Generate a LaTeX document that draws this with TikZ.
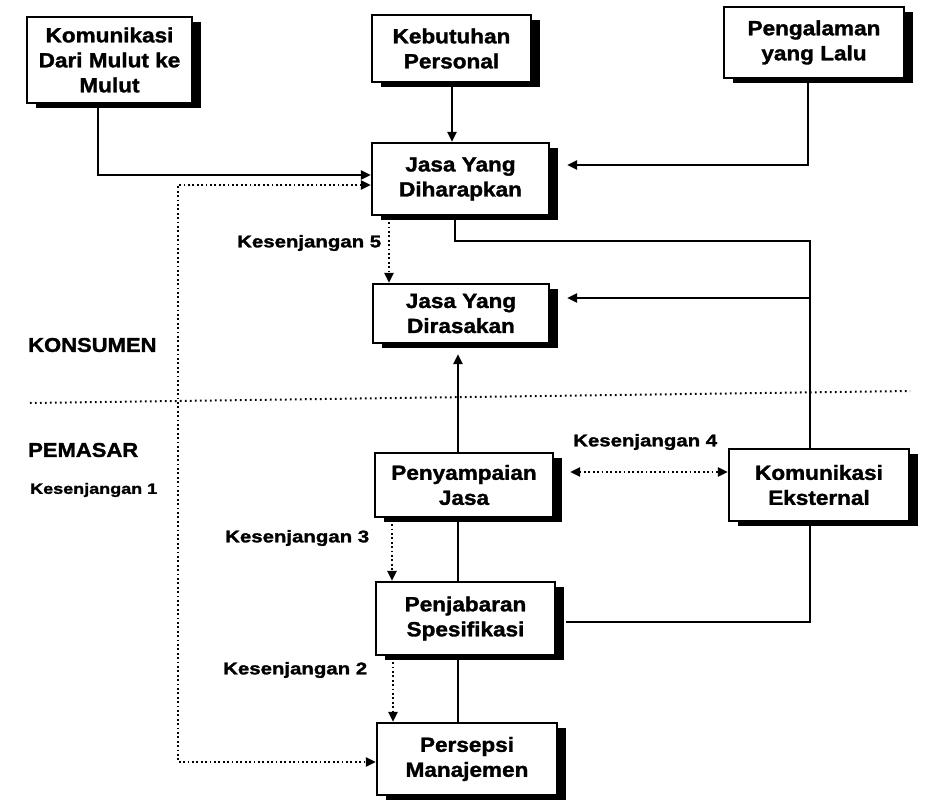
\documentclass[tikz,border=0pt]{standalone}
\usepackage{fontspec}
\setmainfont[FakeStretch=1.1,FakeBold=1.5]{Liberation Sans}
\newfontfamily\lblfont[FakeStretch=1.2,FakeBold=1.5]{Liberation Sans}
\usetikzlibrary{arrows.meta,shadows,calc}
\begin{document}
\begin{tikzpicture}[x=1pt,y=-1pt,
 box/.style={draw, line width=2.4pt, fill=white, align=center, inner sep=0pt,
   font=\bfseries\fontsize{20.5}{25}\selectfont,
   drop shadow={shadow xshift=9pt,shadow yshift=-5pt,fill=black,opacity=1}},
 conn/.style={line width=2.6pt},
 tipA/.style={-{Triangle[length=10pt,width=9pt]}},
 arr/.style={conn,tipA},
 dots/.style={line width=2.5pt, dash pattern=on 1.8pt off 2.6pt},
 darr/.style={dots,tipA},
 lbl/.style={anchor=west, inner sep=0pt, font=\lblfont\bfseries\fontsize{17}{20}\selectfont},
 side/.style={anchor=west, inner sep=0pt, font=\bfseries\fontsize{20}{24}\selectfont}]
\useasboundingbox (0,0) rectangle (932,805);

% boxes
\node[box, minimum width=165pt, minimum height=86pt] (kom) at (109.5,60) {Komunikasi\\Dari Mulut ke\\Mulut};
\node[box, minimum width=159pt, minimum height=67pt] (keb) at (451.5,48.5) {Kebutuhan\\Personal};
\node[box, minimum width=180pt, minimum height=71pt] (peng) at (814,42.5) {Pengalaman\\yang Lalu};
\node[box, minimum width=177pt, minimum height=72pt] (harap) at (460.5,179) {Jasa Yang\\Diharapkan};
\node[box, minimum width=176pt, minimum height=59pt] (rasa) at (461,313.5) {Jasa Yang\\Dirasakan};
\node[box, minimum width=178pt, minimum height=64pt] (nyampai) at (464,485) {Penyampaian\\Jasa};
\node[box, minimum width=180pt, minimum height=72pt] (eks) at (819,485) {Komunikasi\\Eksternal};
\node[box, minimum width=179pt, minimum height=73pt] (jabar) at (465.5,618.5) {Penjabaran\\Spesifikasi};
\node[box, minimum width=180pt, minimum height=72pt] (persepsi) at (467,759) {Persepsi\\Manajemen};

% side labels
\node[side] (konsumen) at (28,345) {KONSUMEN};
\node[side] (pemasar) at (28,450) {PEMASAR};
\node[lbl, font=\lblfont\bfseries\fontsize{15}{18}\selectfont] (k1) at (30,490) {Kesenjangan 1};
\node[lbl] (k5) at (237,243) {Kesenjangan 5};
\node[lbl] (k4) at (573,442) {Kesenjangan 4};
\node[lbl] (k3) at (225,538) {Kesenjangan 3};
\node[lbl] (k2) at (223,670) {Kesenjangan 2};

% divider
\coordinate (divL) at (30,403);
\coordinate (divR) at (910,391);
\draw[line width=2pt, dash pattern=on 1.6pt off 3.4pt] (divL) -- (divR);

% solid connectors
\draw[arr] (98,0 |- kom.south) |- (harap.west |- 0,175);
\draw[arr] (keb.south -| 452,0) -- (452,0 |- harap.north);
\draw[arr] (808,0 |- peng.south) |- ($(harap.east |- 0,165)+(17,0)$);
\coordinate (j1) at (810,298);
\draw[conn] (455,0 |- harap.south) |- (810,241) -- (810,0 |- eks.north);
\draw[arr] (j1) -- ($(rasa.east |- j1)+(17,0)$);
\draw[conn] (810,0 |- eks.south) |- ($(jabar.east |- 0,622)+(10,0)$);
\draw[arr] (458,0 |- nyampai.north) -- ($(458,0 |- rasa.south)+(0,10)$);
\draw[conn] (458,0 |- nyampai.south) -- (458,0 |- jabar.north);
\draw[conn] (458,0 |- jabar.south) -- (458,0 |- persepsi.north);

% dotted connectors
\draw[dots, {Triangle[length=10pt,width=9pt]}-{Triangle[length=10pt,width=9pt]}]
  (harap.west |- 0,185) -| (178,762) -- (persepsi.west |- 0,762);
\draw[darr] (389,0 |- harap.south) ++(0,6) -- (389,0 |- rasa.north);
\draw[darr] (392,0 |- nyampai.south) ++(0,6) -- (392,0 |- jabar.north);
\draw[darr] (393,0 |- jabar.south) ++(0,6) -- (393,0 |- persepsi.north);
\draw[dots, {Triangle[length=10pt,width=9pt]}-{Triangle[length=10pt,width=9pt]}]
  ($(nyampai.east |- 0,472)+(16,0)$) -- (eks.west |- 0,472);
\end{tikzpicture}
\end{document}
